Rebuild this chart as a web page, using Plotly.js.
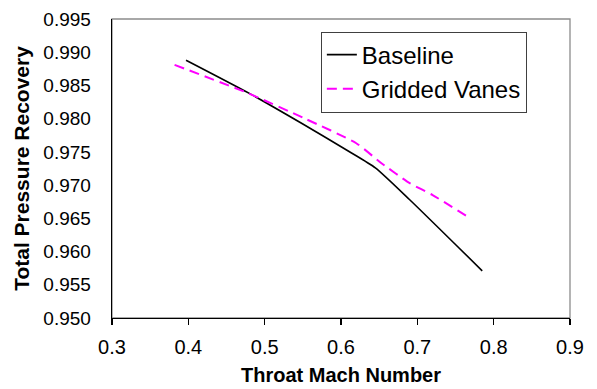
<!DOCTYPE html>
<html>
<head>
<meta charset="utf-8">
<script src="https://cdn.plot.ly/plotly-3.0.1.min.js"></script>
<style>
  html, body { margin: 0; padding: 0; background: #ffffff; }
  #chart { width: 597px; height: 389px; }
</style>
</head>
<body>
<div id="chart"></div>
<script>
// Data
const baselineMach = [0.397, 0.48, 0.55, 0.61, 0.645, 0.69, 0.785];
const baselineRecovery = [0.9888, 0.9838, 0.9792, 0.9751, 0.9726, 0.9678, 0.9571];

const vanesMach = [0.382, 0.479, 0.553, 0.62, 0.653, 0.69, 0.72, 0.768];
const vanesRecovery = [0.9881, 0.9838, 0.9800, 0.9763, 0.9733, 0.9703, 0.9685, 0.9651];

const seriesNames = ["Baseline", "Gridded Vanes"];
const xTickValues = [0.3, 0.4, 0.5, 0.6, 0.7, 0.8, 0.9];
const xTickLabels = ["0.3", "0.4", "0.5", "0.6", "0.7", "0.8", "0.9"];
const yTickValues = [0.950, 0.955, 0.960, 0.965, 0.970, 0.975, 0.980, 0.985, 0.990, 0.995];
const yTickLabels = ["0.950", "0.955", "0.960", "0.965", "0.970", "0.975", "0.980", "0.985", "0.990", "0.995"];

const FONT = "'Liberation Sans', Arial, sans-serif";

const traces = [
  {
    x: baselineMach, y: baselineRecovery, name: seriesNames[0],
    type: "scatter", mode: "lines",
    line: { color: "#000000", width: 1.6, shape: "spline", smoothing: 0.6 }
  },
  {
    x: vanesMach, y: vanesRecovery, name: seriesNames[1],
    type: "scatter", mode: "lines",
    line: { color: "#FF00FF", width: 2, dash: "10px,6px", shape: "spline", smoothing: 0.6 }
  }
];

const layout = {
  width: 597, height: 389,
  margin: { l: 112, r: 27, t: 19, b: 71, pad: 0 },
  paper_bgcolor: "#ffffff",
  plot_bgcolor: "#ffffff",
  font: { family: FONT, color: "#000000" },
  showlegend: true,
  legend: {
    x: 0.456, y: 0.958, xanchor: "left", yanchor: "top",
    bgcolor: "#ffffff", bordercolor: "#404040", borderwidth: 1,
    font: { family: FONT, size: 24, color: "#000000" },
    tracegroupgap: 0
  },
  xaxis: {
    range: [0.3, 0.9],
    tickvals: xTickValues, ticktext: xTickLabels,
    ticks: "outside", ticklen: 6, tickwidth: 1.3, tickcolor: "#000000",
    showline: true, linecolor: "#000000", linewidth: 1.3,
    showgrid: false, zeroline: false,
    tickfont: { family: FONT, size: 20, color: "#000000" },
    ticklabelstandoff: 5,
    title: { text: "<b>Throat Mach Number</b>", font: { family: FONT, size: 20, color: "#000000" }, standoff: 10 },
    automargin: false
  },
  yaxis: {
    range: [0.950, 0.995],
    tickvals: yTickValues, ticktext: yTickLabels,
    ticks: "", showline: true, linecolor: "#000000", linewidth: 1.3,
    showgrid: false, zeroline: false,
    tickfont: { family: FONT, size: 19, color: "#000000" },
    ticklabelstandoff: 16,
    title: { text: "<b>Total Pressure Recovery</b>", font: { family: FONT, size: 21, color: "#000000" }, standoff: 8 },
    automargin: false
  },
  shapes: [
    {
      type: "rect", xref: "paper", yref: "paper", x0: 0, x1: 1, y0: 0, y1: 1,
      line: { color: "#8c8c8c", width: 1.3 }, layer: "below"
    }
  ]
};

Plotly.newPlot("chart", traces, layout, { displayModeBar: false, staticPlot: true });
</script>
</body>
</html>
